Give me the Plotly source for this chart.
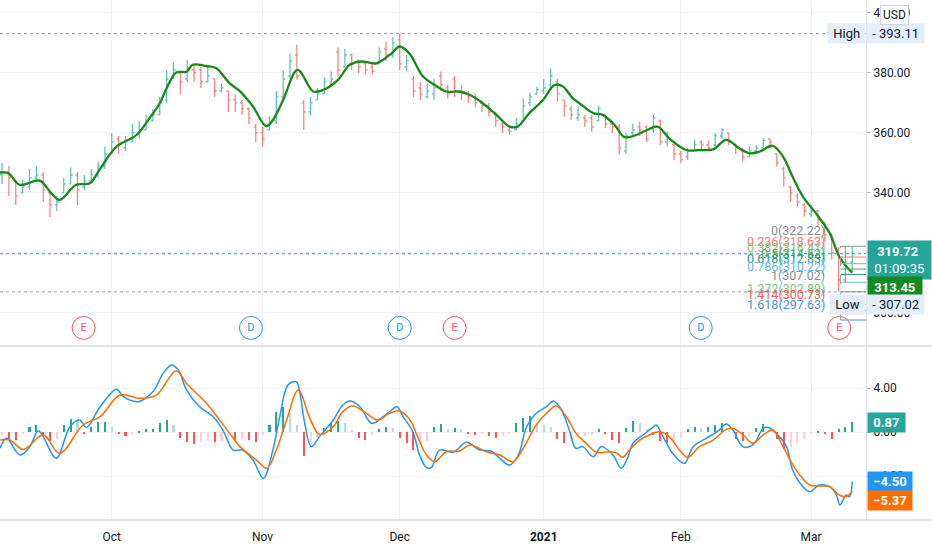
import plotly.graph_objects as go
from plotly.subplots import make_subplots

# one bar per trading day, index 0 = first bar on screen (early Sep 2020)
opens = [346, 347, 344, 340, 342, 345, 346, 340, 336, 340,
         343, 346, 342, 344, 346, 349, 353, 358, 355, 357,
         360, 361, 364, 366, 371, 378, 380, 378, 381, 381,
         377, 378, 374, 374, 371, 370, 368, 362, 360, 361,
         364, 372, 379, 386, 370, 367, 371, 373, 377, 387,
         382, 386, 384, 383, 382, 383, 388, 386, 391, 382,
         378, 375, 372, 373, 379, 375, 378, 374, 373, 372,
         370, 369, 366, 363, 361, 361, 364, 370, 373, 374,
         376, 377, 371, 368, 365, 365, 365, 364, 366, 363,
         362, 354, 360, 362, 362, 361, 364, 357, 356, 353,
         352, 354, 357, 356, 356, 359, 360, 356, 354, 352,
         354, 355, 358, 353, 348, 342, 339, 336, 333, 334,
         330, 326, 321, 311, 317]
highs = [350, 349, 344, 344.5, 348, 349, 347, 340, 339, 345,
         348.5, 347, 346, 348, 350.5, 355.5, 360, 359, 359, 363,
         364, 366, 368, 372, 381, 383.5, 380.5, 384.5, 383, 382,
         382, 378, 376.5, 374, 373, 371, 368.5, 363, 362, 365.5,
         374, 381, 386.5, 389.5, 371, 372, 375, 378.5, 380.5, 388.5,
         388, 386.5, 384.5, 383.5, 383, 388.5, 390.5, 392, 393.11, 386,
         379, 377, 376.5, 378, 380.5, 376, 379, 376, 374, 373,
         371, 370, 367, 364, 362.5, 365, 371.5, 373.5, 375.5, 378,
         381.5, 378, 371, 369, 368.8, 366, 366, 369, 366, 364,
         363, 360, 363, 363.8, 362.5, 366, 364.5, 360.5, 356.5, 354,
         355, 357.7, 357.5, 357.5, 360, 361.6, 360, 356.5, 355, 355.5,
         356, 358.2, 358, 353.2, 348.8, 342.5, 340, 336.5, 336, 334.3,
         330.4, 326.5, 322, 322.22, 322]
lows = [343, 339, 336, 340, 341, 344, 337, 332, 334, 340,
        343, 336, 341, 344, 345, 348, 353, 353, 354, 357,
        358, 361, 364, 366, 370, 378, 373, 377, 377, 375,
        377, 372, 373.5, 367, 367, 366, 363, 357, 355.5, 361,
        363, 371, 378, 377.7, 361, 366, 371, 373, 376, 379,
        382, 381, 380, 379.5, 379.5, 383, 384, 385, 381, 380.5,
        372, 371, 371.5, 371, 374, 371.5, 372, 371, 370, 368.5,
        367, 365.5, 362, 360, 359.3, 361, 364, 369, 373, 373,
        374.5, 370.5, 365.5, 364.3, 364, 362, 360.4, 364, 361.6, 360,
        352.7, 353, 359, 359, 357, 360, 356, 355.5, 351, 349.9,
        351, 354, 354.3, 354, 355.5, 358, 356, 353, 350.4, 352,
        353, 355, 355, 348.8, 342.1, 337, 335.4, 332.1, 332, 328.8,
        323.8, 317.7, 307.02, 310, 314]
closes = [347, 345, 339, 342, 345, 346, 341, 336, 337, 343,
          346, 341, 344, 346, 349, 353, 357, 356, 357, 360,
          361, 364, 366, 370, 378, 381, 377, 381, 380, 377,
          379, 374, 375, 371, 370, 368, 365, 360, 358, 363,
          372, 378, 384, 379, 367, 370, 373, 377, 378, 381,
          386, 383, 382, 381, 380.5, 387, 386, 390, 383, 384,
          374, 373, 374, 375, 376, 373, 374, 373, 372, 370,
          369, 367, 364, 362, 360.5, 363, 369, 372, 374.5, 375,
          379, 373, 369, 366, 366, 364, 362, 368, 363, 362,
          355, 359, 361, 361, 358, 365, 357, 358, 353, 351,
          354, 356, 356, 355, 359, 361, 357, 355, 352, 354,
          355, 357.5, 357, 350, 345, 340, 337, 334, 334, 331,
          326, 320, 311, 317, 319.72]

# moving average
ma_x = [-0.3, 0.9, 2.6, 5.5, 7.0, 8.4, 10.8, 12.8, 14.2, 16.7, 19.6, 21.5, 23.0, 24.0,
        25.4, 26.9, 27.8, 29.8, 31.2, 33.2, 34.6, 36.6, 38.5, 39.5, 41.0, 43.1, 45.4,
        46.8, 49.0, 50.7, 52.4, 54.6, 56.8, 58.0, 59.4, 61.4, 63.1, 64.8, 66.7, 68.2,
        70.1, 72.1, 74.0, 75.2, 76.9, 78.9, 80.6, 81.8, 83.2, 84.2, 86.2, 87.6, 89.3,
        90.8, 92.5, 93.9, 95.6, 97.3, 99.8, 101.7, 103.7, 105.6, 107.5, 109.0, 110.5,
        112.4, 113.9, 115.3, 116.8, 118.7, 120.7, 122.1, 123.6, 124.0]
ma_y = [346.8, 346.6, 342.7, 344.1, 340.4, 337.7, 342.7, 343.2, 347.7, 355.4, 359.3, 364.9,
        369.9, 374.9, 380.1, 380.4, 382.7, 382.3, 381.6, 376.5, 374.1, 368.8, 362.3, 364.3,
        371.0, 381.0, 373.8, 374.3, 377.7, 382.7, 383.8, 383.2, 386.5, 388.8, 386.5, 378.8,
        376.0, 373.8, 373.8, 372.7, 369.9, 366.0, 362.1, 362.1, 366.6, 371.0, 376.0, 375.5,
        371.6, 369.9, 366.6, 366.0, 362.7, 358.6, 359.3, 360.8, 362.1, 358.2, 354.3, 354.3,
        354.5, 357.7, 354.9, 353.2, 353.8, 355.7, 352.1, 345.4, 338.8, 333.2, 326.6, 318.8,
        314.3, 313.45]

# MACD line (blue) and signal line (orange)
macd_x = [-0.3, 0.65, 2.6, 4.05, 5.27, 6.0, 7.9, 9.9, 11.3, 12.3, 14.3, 16.7, 17.7, 19.8,
          22.0, 23.5, 24.7, 25.7, 26.9, 28.8, 30.8, 32.2, 33.7, 35.1, 36.6, 38.1, 39.5,
          40.5, 41.7, 42.9, 43.4, 44.1, 45.1, 46.3, 48.3, 49.7, 50.7, 52.2, 53.9, 55.6,
          56.8, 57.6, 58.5, 59.9, 60.9, 61.9, 62.6, 63.8, 65.8, 67.7, 69.7, 71.3, 72.6,
          74.0, 75.3, 76.5, 77.9, 79.4, 80.4, 81.6, 82.8, 83.7, 84.7, 86.2, 87.4, 89.1,
          90.3, 91.3, 92.0, 93.5, 94.9, 95.4, 96.4, 97.8, 99.5, 100.8, 102.7, 104.6, 105.6,
          106.6, 108.0, 109.5, 111.0, 111.7, 112.9, 114.4, 115.3, 116.8, 117.8, 119.2,
          120.7, 121.7, 122.2, 123.1, 123.6, 124.0]
macd_y = [-1.48, -0.57, -2.09, -1.33, 0.12, -0.42, -2.39, 0.48, 1.09, 0.42, 2.3, 3.88, 3.21,
          2.76, 3.67, 5.33, 6.09, 5.64, 3.82, 2.3, 1.39, 0.18, -1.64, -1.64, -2.55, -4.21,
          -1.64, 1.39, 4.27, 4.58, 3.67, 0.94, -1.33, -0.42, 1.09, 2.45, 2.82, 2.3, 0.79,
          1.39, 2.0, 2.3, 1.39, 0.03, -2.09, -3.24, -3.24, -1.64, -1.85, -0.94, -1.64, -1.73,
          -2.39, -3.0, -2.09, 0.48, 1.7, 2.3, 2.82, 2.0, 0.03, -1.48, -1.33, -2.24, -1.33,
          -2.09, -3.3, -2.24, -1.03, -0.27, 0.42, 0.64, -0.42, -1.94, -2.85, -1.33, -0.58,
          0.18, 0.73, 0.18, -1.33, -1.18, 0.33, 0.42, -0.12, -1.33, -3.45, -4.97, -5.42,
          -4.82, -4.97, -5.73, -6.64, -5.73, -5.88, -4.50]
signal_x = [-0.3, 1.1, 3.1, 6.0, 8.4, 11.8, 14.3, 17.2, 20.1, 22.5, 25.4, 26.9, 29.8, 33.2,
            34.7, 37.1, 38.6, 40.0, 41.5, 43.2, 44.9, 46.3, 48.3, 49.7, 51.2, 53.1, 54.8,
            56.5, 58.0, 59.5, 60.7, 61.9, 63.1, 64.8, 66.7, 68.2, 70.6, 72.6, 74.5, 76.0,
            77.9, 79.4, 80.8, 82.3, 83.7, 85.2, 86.7, 88.6, 89.6, 90.5, 91.5, 93.0, 94.4,
            95.9, 97.3, 98.8, 100.0, 101.7, 103.7, 105.6, 106.6, 108.1, 109.5, 111.0,
            112.4, 113.9, 115.8, 117.8, 119.2, 120.7, 122.1, 123.1, 124.0]
signal_y = [-0.73, -0.73, -1.58, -0.27, -1.94, 0.64, 1.39, 3.36, 3.06, 3.36, 5.58, 4.42, 2.61,
            -0.12, -1.33, -2.55, -3.3, -1.64, 1.09, 3.82, 1.24, -0.21, 0.48, 1.85, 2.36, 1.7,
            1.09, 1.7, 1.91, 1.09, -0.58, -2.09, -2.7, -1.79, -1.73, -1.18, -1.79, -2.09,
            -2.7, -1.48, 0.64, 1.7, 2.36, 1.39, -0.12, -1.03, -1.85, -1.79, -1.9, -2.3,
            -1.64, -0.73, -0.27, 0.03, -0.42, -1.64, -2.3, -1.33, -0.73, 0.24, 0.33, -0.27,
            -1.03, -0.27, 0.18, -1.33, -3.45, -4.82, -4.91, -4.97, -5.73, -5.88, -5.37]

hist = [-0.3, -0.6, -0.7, -0.2, 0.5, 0.6, -0.3, -0.8, -0.6, 0.6,
        1.2, 1.1, -0.2, 0.5, 0.9, 0.9, 0.5, -0.2, -0.4, -0.3,
        0.1, 0.3, 0.3, 0.8, 1.1, 0.6, -0.5, -0.9, -1.1, -0.9,
        -0.8, -0.9, -0.8, -0.7, -0.8, -0.6, -0.7, -0.9, -0.3, 0.6,
        1.8, 2.3, 1.7, 0.6, -2.2, -1.4, -0.5, 0.4, 0.8, 1.0,
        0.8, 0.2, -0.5, -0.7, -0.3, 0.3, 0.5, 0.4, -0.5, -1.0,
        -1.6, -1.2, -0.8, 0.5, 0.7, 0.3, 0.4, 0.3, -0.2, -0.3,
        -0.2, -0.4, -0.5, -0.4, -0.2, 0.8, 1.3, 1.5, 0.7, 0.6,
        0.5, -0.6, -1.0, -0.8, -0.5, -0.4, -0.3, 0.3, -0.2, -0.7,
        -1.0, 0.4, 1.0, 0.8, 0.3, -0.3, -0.8, -1.0, -0.8, -0.5,
        0.3, 0.5, 0.4, 0.5, 0.6, 0.8, 0.2, -0.6, -0.8, -0.4,
        0.4, 0.7, 0.3, -0.6, -1.5, -1.4, -1.0, -0.6, -0.2, 0.1,
        -0.2, -0.6, 0.3, 0.5, 0.87]

month_pos = [16, 38, 58, 79, 99, 118]
month_labels = ['Oct', 'Nov', 'Dec', '<b>2021</b>', 'Feb', 'Mar']

event_pos = [11.9, 36.3, 58, 66, 101.9, 122.1]
event_kind = ['E', 'D', 'D', 'E', 'D', 'E']

fib_ratio = [0, 0.236, 0.382, 0.5, 0.618, 0.786, 1, 1.272, 1.414, 1.618]
fib_price = [322.22, 318.63, 316.41, 314.62, 312.83, 310.22, 307.02, 302.89, 300.73, 297.63]
fib_color = ['#8a8d96', '#f07a7a', '#7cc47f', '#4caf50', '#22998e', '#64b5f6',
             '#8a8d96', '#7cc47f', '#f05a5a', '#4a90e2']

high_price = 393.11
low_price = 307.02
last_price = 319.72
ma_last = 313.45
hist_last = 0.87
macd_last = -4.50
signal_last = -5.37

FONT = 'Roboto'
TXT = '#131722'
GRID = '#f0f3fa'
EDGE = '#e0e3eb'

fig = make_subplots(rows=2, cols=1, shared_xaxes=True, vertical_spacing=0.004)

fig.add_trace(go.Ohlc(x=list(range(len(closes))), open=opens, high=highs, low=lows, close=closes,
                      increasing=dict(line=dict(color='rgba(38,166,154,0.75)', width=1.2)),
                      decreasing=dict(line=dict(color='rgba(239,83,80,0.75)', width=1.2)),
                      tickwidth=0.3, hoverinfo='skip'), row=1, col=1)
fig.add_trace(go.Scatter(x=ma_x, y=ma_y, mode='lines', line=dict(color='#178a17', width=2.3, shape='spline'),
                         hoverinfo='skip'), row=1, col=1)

# earnings / dividends markers
ev_col = ['#f7525f' if k == 'E' else '#2196f3' for k in event_kind]
fig.add_trace(go.Scatter(x=event_pos, y=[295] * len(event_pos), mode='markers+text', text=event_kind,
                         textposition='middle center',
                         textfont=dict(family=FONT, size=11, color=ev_col),
                         marker=dict(size=23, color='white', line=dict(color=ev_col, width=1)),
                         hoverinfo='skip'), row=1, col=1)

# MACD histogram colours (TradingView style)
hcol = []
for i, v in enumerate(hist):
    prev = hist[i - 1] if i > 0 else v
    if v >= 0:
        hcol.append('#26a69a' if v >= prev else '#b2dfdb')
    else:
        hcol.append('#ff5252' if v < prev else '#ffcdd2')
fig.add_trace(go.Bar(x=list(range(len(hist))), y=hist, marker=dict(color=hcol, line=dict(width=0)),
                     width=0.3, hoverinfo='skip'), row=2, col=1)
fig.add_trace(go.Scatter(x=macd_x, y=macd_y, mode='lines', line=dict(color='#2196f3', width=1.5, shape='spline'),
                         hoverinfo='skip'), row=2, col=1)
fig.add_trace(go.Scatter(x=signal_x, y=signal_y, mode='lines', line=dict(color='#ff6d00', width=1.5, shape='spline'),
                         hoverinfo='skip'), row=2, col=1)

xr = [-0.3, 126.0]
fig.update_xaxes(range=xr, rangeslider_visible=False, showgrid=True, gridcolor=GRID, zeroline=False,
                 tickvals=month_pos, ticktext=month_labels, ticks='outside', ticklen=6,
                 tickcolor='rgba(0,0,0,0)', showline=False,
                 tickfont=dict(family=FONT, size=12, color=TXT))
fig.update_xaxes(showticklabels=False, ticks='', row=1, col=1)

fig.update_yaxes(side='right', range=[289.3, 404.3], tickvals=[300, 320, 340, 360, 380, 400],
                 ticktext=['%.2f' % v for v in [300, 320, 340, 360, 380, 400]],
                 showgrid=True, gridcolor=GRID, zeroline=False, showline=True, linecolor=EDGE,
                 ticks='outside', ticklen=4, tickcolor='#b2b5be',
                 tickfont=dict(family=FONT, size=12, color=TXT), domain=[0.3365, 1], row=1, col=1)
fig.update_yaxes(side='right', range=[-8.0, 7.73], tickvals=[-4, 0, 4],
                 ticktext=['\u22124.00', '0.00', '4.00'],
                 showgrid=True, gridcolor=GRID, zeroline=False, showline=True, linecolor=EDGE,
                 ticks='outside', ticklen=4, tickcolor='#b2b5be',
                 tickfont=dict(family=FONT, size=12, color=TXT), domain=[0, 0.3327], row=2, col=1)

shapes = []
# dotted price lines
for p, c in [(high_price, '#9598a1'), (last_price, '#26a69a'), (low_price, '#9598a1')]:
    shapes.append(dict(type='line', xref='x', yref='y', x0=xr[0], x1=xr[1], y0=p, y1=p,
                       line=dict(color=c, width=1, dash='dot')))
# fib retracement box
for p, c in zip(fib_price, fib_color):
    shapes.append(dict(type='line', xref='x', yref='y', x0=122.3, x1=xr[1], y0=p, y1=p,
                       line=dict(color=c, width=1)))
shapes.append(dict(type='line', xref='x', yref='y', x0=122.3, x1=122.3, y0=fib_price[-1], y1=fib_price[0],
                   line=dict(color='#9598a1', width=1, dash='dash')))
# pane separator and bottom edge
shapes.append(dict(type='line', xref='paper', yref='paper', x0=0, x1=1.08, y0=0.3346, y1=0.3346,
                   line=dict(color=EDGE, width=2)))
shapes.append(dict(type='line', xref='paper', yref='paper', x0=0, x1=1.08, y0=0, y1=0,
                   line=dict(color=EDGE, width=2)))

ann = []
for r, p, c in zip(fib_ratio, fib_price, fib_color):
    ann.append(dict(xref='x', yref='y', x=120.3, y=p, xanchor='right', yanchor='middle', yshift=16,
                    text='%s(%.2f)' % (r, p), showarrow=False,
                    font=dict(family=FONT, size=12.5, color=c)))


def axis_box(text, y, yref, bg, fg, yshift=0, xshift=1, pad=3):
    ann.append(dict(xref='paper', yref=yref, x=1, y=y, xanchor='left', yanchor='middle',
                    xshift=xshift, yshift=yshift, text=text, showarrow=False, bgcolor=bg,
                    borderpad=pad, font=dict(family=FONT, size=13, color=fg)))


axis_box('&nbsp;<b>%.2f</b>&nbsp;&nbsp;<br>&nbsp;01:09:35&nbsp;' % last_price, last_price, 'y',
         '#26a69a', 'white', yshift=-6)
axis_box('&nbsp;<b>%.2f</b>&nbsp;' % ma_last, ma_last, 'y', '#138a1e', 'white', yshift=-15)
axis_box(' - %.2f ' % high_price, high_price, 'y', '#e3eefa', TXT, xshift=0, pad=2)
ann.append(dict(xref='paper', yref='y', x=1, y=high_price, xanchor='right', yanchor='middle',
                text=' High ', showarrow=False, bgcolor='#e3eefa', borderpad=2,
                font=dict(family=FONT, size=13, color=TXT)))
axis_box(' - %.2f ' % low_price, low_price, 'y', '#e3eefa', TXT, xshift=0, yshift=-13, pad=2)
ann.append(dict(xref='paper', yref='y', x=1, y=low_price, xanchor='right', yanchor='middle', yshift=-13,
                text=' Low ', showarrow=False, bgcolor='#e3eefa', borderpad=2,
                font=dict(family=FONT, size=13, color=TXT)))
axis_box('&nbsp;<b>%.2f</b>&nbsp;' % hist_last, hist_last, 'y2', '#26a69a', 'white', pad=2)
axis_box('&nbsp;<b>\u2212%.2f</b>&nbsp;' % abs(macd_last), macd_last, 'y2', '#2196f3', 'white', pad=2)
axis_box('&nbsp;<b>\u2212%.2f</b>&nbsp;' % abs(signal_last), signal_last, 'y2', '#ff6d00', 'white',
         yshift=-9, pad=2)
ann.append(dict(xref='paper', yref='paper', x=894 / 866, y=1 - 15 / 520, xanchor='center', yanchor='middle',
                text='USD', showarrow=False, bgcolor='white', bordercolor='#d1d4dc', borderwidth=1,
                borderpad=2, font=dict(family=FONT, size=12, color=TXT)))

fig.update_layout(width=932, height=550, margin=dict(l=0, r=66, t=0, b=30),
                  paper_bgcolor='white', plot_bgcolor='white', showlegend=False,
                  bargap=0, shapes=shapes, annotations=ann)

fig.write_html("out.html", config={'displayModeBar': False},
               post_script="document.body.style.margin='0';")
